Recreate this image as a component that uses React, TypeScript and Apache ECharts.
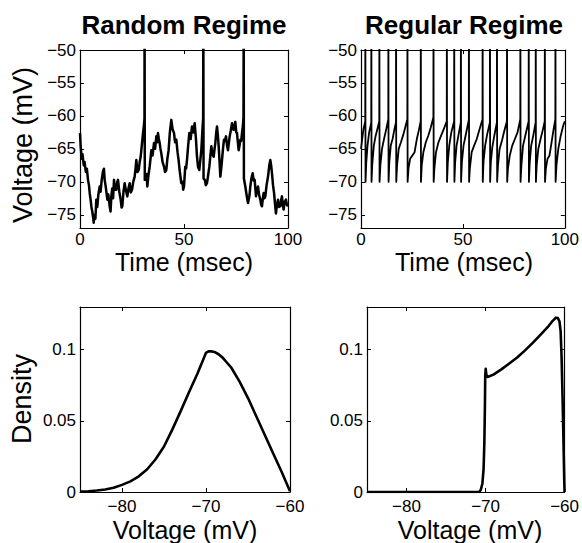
import React, { useEffect, useRef } from "react";
import * as echarts from "echarts";

// ---------- data ----------
const timeTicks = [0, 50, 100];
const voltageTicks = [-75, -70, -65, -60, -55, -50];
const densityVoltageTicks = [-80, -70, -60];
const densityTicks = [0, 0.05, 0.1];

// Random regime membrane potential trace [time (ms), voltage (mV)]
const randomTrace: [number, number][] = [
  [0, -62.6], [0.3, -64.5], [0.8, -66.5], [1.2, -65.8], [1.8, -67.5], [2.2, -67.0],
  [2.8, -68.5], [3.3, -68.0], [3.85, -69.7], [4.3, -70.5], [4.7, -71.8], [5.1, -72.7],
  [5.5, -73.8], [5.9, -74.5], [6.25, -75.3], [6.6, -76.2], [7.0, -75.0], [7.4, -75.6],
  [7.85, -72.7], [8.3, -73.8], [8.8, -72.0], [9.46, -70.7], [9.9, -71.5], [10.4, -69.8],
  [11.06, -68.4], [11.5, -68.0], [11.86, -69.7], [12.4, -70.8], [13.14, -72.7], [13.6, -71.9],
  [14.26, -73.7], [14.7, -74.5], [15.06, -72.2], [15.5, -71.0], [15.9, -72.5], [16.35, -69.7],
  [16.9, -71.2], [17.47, -71.2], [17.9, -70.0], [18.27, -69.7], [18.9, -71.5], [19.55, -72.7],
  [20.0, -73.9], [20.35, -73.7], [20.9, -71.5], [21.47, -70.2], [22.1, -71.3], [22.76, -72.2],
  [23.3, -71.0], [23.88, -70.2], [24.4, -71.6], [25.0, -71.2], [25.6, -70.0], [26.28, -69.2],
  [26.7, -68.0], [27.08, -66.7], [27.6, -68.5], [28.2, -68.2], [28.7, -67.0], [29.17, -66.2],
  [29.7, -64.5], [30.29, -62.6], [30.7, -61.5], [31.0, -60.4], [31.05, -44], [31.15, -69.7],
  [31.57, -69.7], [32.0, -68.8], [32.37, -70.7], [32.9, -69.0], [33.49, -67.7], [33.9, -66.5],
  [34.3, -65.2], [34.9, -66.0], [35.58, -64.1], [36.1, -65.0], [36.7, -63.1], [37.1, -64.0],
  [37.5, -62.6], [37.9, -63.5], [38.3, -64.1], [38.7, -65.0], [39.1, -65.7], [39.7, -67.0],
  [40.4, -67.7], [40.9, -68.5], [41.5, -68.2], [42.0, -66.5], [42.6, -65.2], [43.2, -62.5],
  [43.9, -60.6], [44.5, -62.0], [45.2, -62.6], [45.7, -64.0], [46.3, -63.6], [46.9, -65.5],
  [47.4, -66.7], [48.0, -68.5], [48.7, -70.2], [49.3, -70.0], [49.6, -71.2], [50.0, -70.7],
  [50.6, -67.7], [51.0, -68.0], [51.44, -66.7], [52.0, -64.5], [52.56, -62.6], [53.2, -63.5],
  [53.85, -61.6], [54.5, -62.5], [55.13, -61.1], [55.77, -63.6], [56.2, -66.0], [56.73, -67.7],
  [57.37, -68.2], [57.9, -66.5], [58.33, -65.2], [58.8, -62.5], [59.2, -60.3], [59.3, -44],
  [59.4, -69.5], [60.0, -69.7], [60.5, -70.5], [61.06, -70.2], [61.6, -69.0], [62.18, -67.7],
  [62.7, -66.0], [63.14, -64.6], [63.7, -65.8], [64.26, -66.2], [64.7, -65.0], [65.06, -64.1],
  [65.5, -62.5], [65.87, -61.6], [66.3, -63.0], [66.67, -64.6], [67.1, -67.0], [67.47, -69.2],
  [67.9, -68.0], [68.27, -66.7], [68.8, -64.8], [69.23, -63.6], [69.7, -63.8], [70.19, -63.1],
  [70.7, -64.5], [71.15, -65.2], [71.6, -64.0], [71.96, -63.1], [72.5, -62.2], [73.08, -61.1],
  [73.5, -62.0], [73.88, -62.1], [74.3, -61.5], [74.68, -60.9], [75.1, -62.5], [75.48, -62.6],
  [75.9, -64.0], [76.28, -65.2], [76.7, -64.5], [77.08, -63.6], [77.5, -63.8], [77.88, -62.6],
  [78.3, -61.5], [78.6, -60.2], [78.7, -44], [78.8, -69.5], [79.49, -70.7], [80.0, -71.8],
  [80.45, -72.7], [80.8, -73.2], [81.09, -73.2], [81.5, -72.0], [81.89, -70.7], [82.4, -69.5],
  [83.0, -68.7], [83.5, -69.8], [83.97, -69.7], [84.3, -71.0], [84.62, -72.2], [85.1, -71.0],
  [85.58, -70.7], [86.1, -72.0], [86.7, -72.7], [87.1, -73.5], [87.5, -73.7], [87.9, -72.5],
  [88.3, -71.7], [88.7, -72.5], [89.1, -72.2], [89.7, -70.5], [90.4, -69.2], [91.0, -67.5],
  [91.5, -66.7], [91.9, -67.5], [92.3, -68.7], [92.8, -70.5], [93.3, -71.7], [93.8, -73.5],
  [94.2, -74.8], [94.7, -73.5], [95.2, -72.7], [95.7, -73.8], [96.3, -73.7], [96.7, -72.8],
  [97.1, -72.2], [97.5, -73.5], [97.9, -74.2], [98.4, -73.0], [99.0, -72.7], [99.5, -73.5],
  [100, -73.7],
];

// Regular regime trace [time (ms), voltage (mV)]; spikes go above -50 and are clipped
const regularTrace: [number, number][] = [
  [0, -65], [0.6, -63.5], [1.2, -62], [1.8, -61.2], [2.08, -60.8], [2.13, -40], [2.21, -70],
  [2.6, -67], [3.2, -64.5], [4.0, -62.5], [5.03, -61], [5.08, -40], [5.16, -70],
  [5.5, -67.5], [6.3, -64.5], [7.2, -63], [8.2, -61.8], [8.97, -60.8], [9.02, -40], [9.1, -70],
  [9.5, -67.5], [10.3, -65], [11.3, -63.5], [12.4, -62], [13.39, -60.5], [13.44, -40], [13.52, -70],
  [13.9, -67], [14.6, -64.5], [15.5, -63.5], [16.4, -62], [17.16, -61], [17.21, -40], [17.29, -70],
  [17.7, -67.5], [18.5, -65], [19.6, -64], [20.8, -62.8], [21.9, -61.5], [22.74, -60.5], [22.79, -40], [22.87, -70],
  [23.3, -68], [24.1, -66.5], [25.2, -66], [26.3, -65.5], [27.4, -63.5], [28.5, -62], [29.29, -60.8], [29.34, -40], [29.42, -70],
  [29.8, -67.5], [30.6, -65.5], [31.8, -64], [33.0, -63], [34.2, -61.8], [35.52, -60.2], [35.57, -40], [35.65, -70],
  [36.0, -68], [36.8, -65.5], [38.0, -64], [39.3, -63], [40.6, -62], [42.08, -60.8], [42.13, -40], [42.21, -70],
  [42.6, -67], [43.3, -64.5], [44.3, -62.5], [45.69, -60.8], [45.74, -40], [45.82, -70],
  [46.2, -67], [46.9, -64.5], [47.9, -62.8], [48.97, -61], [49.02, -40], [49.1, -70],
  [49.5, -67], [50.3, -64.5], [51.3, -63], [52.9, -60.6], [52.95, -40], [53.03, -70],
  [53.4, -68], [54.3, -65.5], [55.5, -64.5], [56.8, -63.5], [58.2, -62], [59.62, -60.5], [59.67, -40], [59.75, -70],
  [60.1, -67], [60.9, -64.5], [61.9, -62.8], [63.23, -61], [63.28, -40], [63.36, -70],
  [63.7, -67], [64.4, -64.8], [65.4, -63], [66.67, -61], [66.72, -40], [66.8, -70],
  [67.2, -67.5], [68.0, -65], [69.1, -63.8], [70.3, -62.3], [71.59, -60.8], [71.64, -40], [71.72, -70],
  [72.1, -68], [73.0, -66], [74.2, -64.5], [75.5, -63.5], [76.8, -62.5], [78.15, -60.5], [78.2, -40], [78.28, -70],
  [78.7, -67.5], [79.5, -64.5], [80.6, -63], [82.25, -60.8], [82.3, -40], [82.38, -70],
  [82.8, -67], [83.5, -64.5], [84.5, -63], [85.69, -61], [85.74, -40], [85.82, -70],
  [86.2, -67.5], [87.0, -65], [88.1, -63.5], [89.3, -62], [90.15, -60.8], [90.2, -40], [90.28, -70],
  [90.7, -68], [91.5, -66.5], [92.5, -66], [93.5, -64], [94.5, -62], [95.35, -60.5], [95.4, -40], [95.48, -70],
  [95.9, -67.5], [96.8, -65], [98.0, -63], [99.2, -61.5], [100, -60.8],
];

// Voltage density, random regime [voltage (mV), density]
const randomDensity: [number, number][] = [
  [-85, 0.0003], [-84, 0.0005], [-83, 0.001], [-82, 0.0018], [-81, 0.003], [-80, 0.005],
  [-79, 0.0075], [-78, 0.011], [-77, 0.016], [-76, 0.023], [-75, 0.032], [-74, 0.044],
  [-73, 0.057], [-72, 0.0705], [-71, 0.0835], [-70.4, 0.092], [-70, 0.0978], [-69.7, 0.0988],
  [-69.3, 0.0988], [-69, 0.0984], [-68.5, 0.0968], [-68, 0.0943], [-67, 0.0875], [-66, 0.0775],
  [-65, 0.066], [-64, 0.053], [-63, 0.04], [-62, 0.027], [-61, 0.0142], [-60, 0.0005],
];

// Voltage density, regular regime [voltage (mV), density]
const regularDensity: [number, number][] = [
  [-85, 0], [-70.8, 0], [-70.6, 0.0016], [-70.4, 0.006], [-70.25, 0.016], [-70.15, 0.035],
  [-70.08, 0.06], [-70.04, 0.082], [-69.98, 0.0865], [-69.9, 0.0825], [-69.75, 0.0808],
  [-69, 0.0825], [-68, 0.0862], [-67, 0.0903], [-66, 0.0945], [-65, 0.0995], [-64, 0.105],
  [-63, 0.1108], [-62, 0.1168], [-61.5, 0.1203], [-61.1, 0.1225], [-60.85, 0.1222],
  [-60.65, 0.12], [-60.5, 0.113], [-60.38, 0.095], [-60.25, 0.065], [-60.12, 0.03],
  [-60.04, 0.008], [-60, 0],
];

const titles = ["Random Regime", "Regular Regime"];
const timeLabel = "Time (msec)";
const voltageLabel = "Voltage (mV)";
const densityLabel = "Density";

// ---------- chart ----------
const FONT = "'Liberation Sans', Arial, Helvetica, sans-serif";
const fmt = (v: number) => String(v).replace("-", "\u2212");

const grids = [
  { left: 80, top: 50, width: 208, height: 178 },
  { left: 361, top: 50, width: 205, height: 178 },
  { left: 80, top: 307, width: 210, height: 185 },
  { left: 367, top: 307, width: 205, height: 185 },
];

function axisPair(kind: "x" | "y", gi: number, min: number, max: number, ticks: number[], margin: number) {
  const base = (pos: string, labels: boolean) => ({
    type: "value",
    gridIndex: gi,
    min,
    max,
    position: pos,
    axisLine: { show: true, onZero: false, lineStyle: { color: "#000", width: 1.2 } },
    axisTick: { show: true, inside: true, length: 4, customValues: ticks, lineStyle: { color: "#000", width: 1 } },
    axisLabel: {
      show: labels,
      customValues: ticks,
      formatter: fmt,
      fontSize: 17,
      lineHeight: 17,
      color: "#000",
      fontFamily: FONT,
      margin,
    },
    splitLine: { show: false },
  });
  return kind === "x"
    ? [base("bottom", true), base("top", false)]
    : [base("left", true), base("right", false)];
}

export default function App() {
  const ref = useRef<HTMLDivElement>(null);
  useEffect(() => {
    document.body.style.margin = "0";
    const chart = echarts.init(ref.current!, null, { renderer: "svg" });
    const xAxis = [
      ...axisPair("x", 0, 0, 100, timeTicks, 3),
      ...axisPair("x", 1, 0, 100, timeTicks, 3),
      ...axisPair("x", 2, -85, -60, densityVoltageTicks, 6),
      ...axisPair("x", 3, -85, -60, densityVoltageTicks, 6),
    ];
    const yAxis = [
      ...axisPair("y", 0, -77, -50, voltageTicks, 4),
      ...axisPair("y", 1, -77, -50, voltageTicks, 4),
      ...axisPair("y", 2, 0, 0.13, densityTicks, 4),
      ...axisPair("y", 3, 0, 0.13, densityTicks, 4),
    ];
    const line = (gi: number, data: [number, number][], width: number) => ({
      type: "line",
      xAxisIndex: gi * 2,
      yAxisIndex: gi * 2,
      data,
      showSymbol: false,
      symbol: "none",
      clip: true,
      lineStyle: { color: "#000", width, join: "round" },
      emphasis: { disabled: true },
    });
    const txt = (text: string, x: number, y: number, size: number, bold = false, rot = 0) => ({
      type: "text",
      x,
      y,
      rotation: rot,
      style: {
        text,
        font: `${bold ? "bold " : ""}${size}px ${FONT}`,
        lineHeight: size,
        textAlign: "center",
        textVerticalAlign: "middle",
        align: "center",
        verticalAlign: "middle",
        fill: "#000",
      },
    });
    chart.setOption({
      animation: false,
      backgroundColor: "#fff",
      grid: grids.map((g) => ({ ...g, containLabel: false })),
      xAxis,
      yAxis,
      series: [
        line(0, randomTrace, 2.5),
        line(1, regularTrace, 1.8),
        line(2, randomDensity, 2.6),
        line(3, regularDensity, 2.6),
      ],
      graphic: [
        txt(titles[0], 184, 25, 26, true),
        txt(titles[1], 464, 25, 26, true),
        txt(timeLabel, 184, 262, 25),
        txt(timeLabel, 464, 262, 25),
        txt(voltageLabel, 23, 145, 27, false, Math.PI / 2),
        txt(densityLabel, 22, 399, 27, false, Math.PI / 2),
        txt(voltageLabel, 185, 530, 25),
        txt(voltageLabel, 470, 530, 25),
      ],
    });
    return () => chart.dispose();
  }, []);
  return <div ref={ref} style={{ width: 582, height: 543 }} />;
}
